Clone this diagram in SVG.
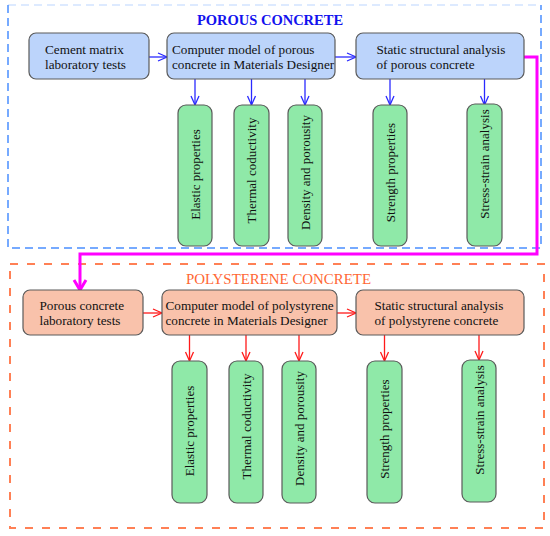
<svg xmlns="http://www.w3.org/2000/svg" width="550" height="536" viewBox="0 0 550 536">
<defs>
<style>
text{font-family:"Liberation Serif","Times New Roman",serif;fill:#111}
.lbl{font-size:13.2px}
.vt{font-size:13px;text-anchor:middle;dominant-baseline:central}
.blue{fill:#bcd4fb;stroke:#5a5a5a;stroke-width:1.2}
.orng{fill:#f9c2ab;stroke:#5a5a5a;stroke-width:1.2}
.grn{fill:#8fe9a8;stroke:#5a5a5a;stroke-width:1.2}
.ab{stroke:#2a2aff;stroke-width:1.3;fill:none;marker-end:url(#mb)}
.ar{stroke:#ff1a1a;stroke-width:1.3;fill:none;marker-end:url(#mr)}
.fb{fill:none;stroke:#4a8fff;stroke-width:1.5;stroke-dasharray:8 5}
</style>
<marker id="mb" markerUnits="userSpaceOnUse" markerWidth="12" markerHeight="12" refX="10" refY="5" orient="auto" overflow="visible">
<path d="M1,1 L10,5 L1,9" fill="none" stroke="#2a2aff" stroke-width="1.3"/>
</marker>
<marker id="mr" markerUnits="userSpaceOnUse" markerWidth="12" markerHeight="12" refX="10" refY="5" orient="auto" overflow="visible">
<path d="M1,1 L10,5 L1,9" fill="none" stroke="#ff1a1a" stroke-width="1.3"/>
</marker>
<marker id="mm" markerUnits="userSpaceOnUse" markerWidth="14" markerHeight="14" refX="11" refY="6.5" orient="auto" overflow="visible">
<path d="M1,0.5 L11,6.5 L1,12.5" fill="none" stroke="#ff00ff" stroke-width="3"/>
</marker>
</defs>

<g id="frames">
<path class="fb" d="M8,5 V248 H541 V5"/>
<path class="fb" d="M8,5 H541" style="opacity:0.25"/>
<rect x="10" y="264" width="534" height="264" fill="none" stroke="#ff8055" stroke-width="2" stroke-dasharray="8 9"/>
</g>

<g id="titles">
<text x="270" y="25" text-anchor="middle" style="font-size:14.5px;font-weight:bold;fill:#1212ee">POROUS CONCRETE</text>
<text x="278.5" y="284" text-anchor="middle" style="font-size:14.9px;fill:#ff6633">POLYSTERENE CONCRETE</text>
</g>

<g id="connectors">
<path class="ab" d="M149,57 H167"/>
<path class="ab" d="M335,57 H356"/>
<path class="ab" d="M195,79 V105"/>
<path class="ab" d="M251.5,79 V105"/>
<path class="ab" d="M305,79 V105"/>
<path class="ab" d="M390,79 V105"/>
<path class="ab" d="M484.5,79 V105"/>
<path d="M524,57 H537 V254 H80 V290" fill="none" stroke="#ff00ff" stroke-width="3" marker-end="url(#mm)"/>
<path class="ar" d="M143,313 H162"/>
<path class="ar" d="M337,313 H356"/>
<path class="ar" d="M189.5,335 V361"/>
<path class="ar" d="M246,335 V361"/>
<path class="ar" d="M299,335 V361"/>
<path class="ar" d="M384.5,335 V361"/>
<path class="ar" d="M479,335 V360"/>
</g>

<g id="cement-tests">
<rect class="blue" x="29" y="33" width="120" height="46" rx="7"/>
<text class="lbl" x="45" y="53.5">Cement matrix</text>
<text class="lbl" x="45" y="68.5">laboratory tests</text>
</g>
<g id="porous-model">
<rect class="blue" x="167" y="33" width="168" height="46" rx="7"/>
<text class="lbl" x="172" y="53.5">Computer model of porous</text>
<text class="lbl" x="172" y="68.5">concrete in Materials Designer</text>
</g>
<g id="porous-static">
<rect class="blue" x="356" y="33" width="168" height="46" rx="7"/>
<text class="lbl" x="376.5" y="53.5">Static structural analysis</text>
<text class="lbl" x="376.5" y="68.5">of porous concrete</text>
</g>

<g id="p-elastic">
<rect class="grn" x="178" y="105" width="34" height="141" rx="8"/>
<text class="vt" transform="translate(195,174.5) rotate(-90)">Elastic properties</text>
</g>
<g id="p-thermal">
<rect class="grn" x="234" y="105" width="35" height="141" rx="8"/>
<text class="vt" transform="translate(251.5,170.5) rotate(-90)">Thermal coductivity</text>
</g>
<g id="p-density">
<rect class="grn" x="288" y="105" width="34" height="141" rx="8"/>
<text class="vt" transform="translate(305,172.5) rotate(-90)">Density and porousity</text>
</g>
<g id="p-strength">
<rect class="grn" x="373" y="105" width="34" height="141" rx="8"/>
<text class="vt" transform="translate(390,172.5) rotate(-90)">Strength properties</text>
</g>
<g id="p-stress">
<rect class="grn" x="467" y="104" width="35" height="142" rx="8"/>
<text class="vt" transform="translate(484.5,164) rotate(-90)">Stress-strain analysis</text>
</g>

<g id="porous-tests">
<rect class="orng" x="23" y="290" width="120" height="45" rx="7"/>
<text class="lbl" x="39.5" y="310">Porous concrete</text>
<text class="lbl" x="39.5" y="325">laboratory tests</text>
</g>
<g id="poly-model">
<rect class="orng" x="162" y="290" width="175" height="45" rx="7"/>
<text class="lbl" x="165.5" y="310">Computer model of polystyrene</text>
<text class="lbl" x="165.5" y="325">concrete in Materials Designer</text>
</g>
<g id="poly-static">
<rect class="orng" x="356" y="290" width="168" height="45" rx="7"/>
<text class="lbl" x="374.5" y="310">Static structural analysis</text>
<text class="lbl" x="374.5" y="325">of polystyrene concrete</text>
</g>

<g id="s-elastic">
<rect class="grn" x="172" y="361" width="35" height="142" rx="8"/>
<text class="vt" transform="translate(189.5,431) rotate(-90)">Elastic properties</text>
</g>
<g id="s-thermal">
<rect class="grn" x="229" y="361" width="34" height="142" rx="8"/>
<text class="vt" transform="translate(246,426.5) rotate(-90)">Thermal coductivity</text>
</g>
<g id="s-density">
<rect class="grn" x="282" y="361" width="34" height="142" rx="8"/>
<text class="vt" transform="translate(299,428.5) rotate(-90)">Density and porousity</text>
</g>
<g id="s-strength">
<rect class="grn" x="367" y="361" width="35" height="142" rx="8"/>
<text class="vt" transform="translate(384.5,429) rotate(-90)">Strength properties</text>
</g>
<g id="s-stress">
<rect class="grn" x="462" y="360" width="34" height="142" rx="8"/>
<text class="vt" transform="translate(479,420) rotate(-90)">Stress-strain analysis</text>
</g>
</svg>
